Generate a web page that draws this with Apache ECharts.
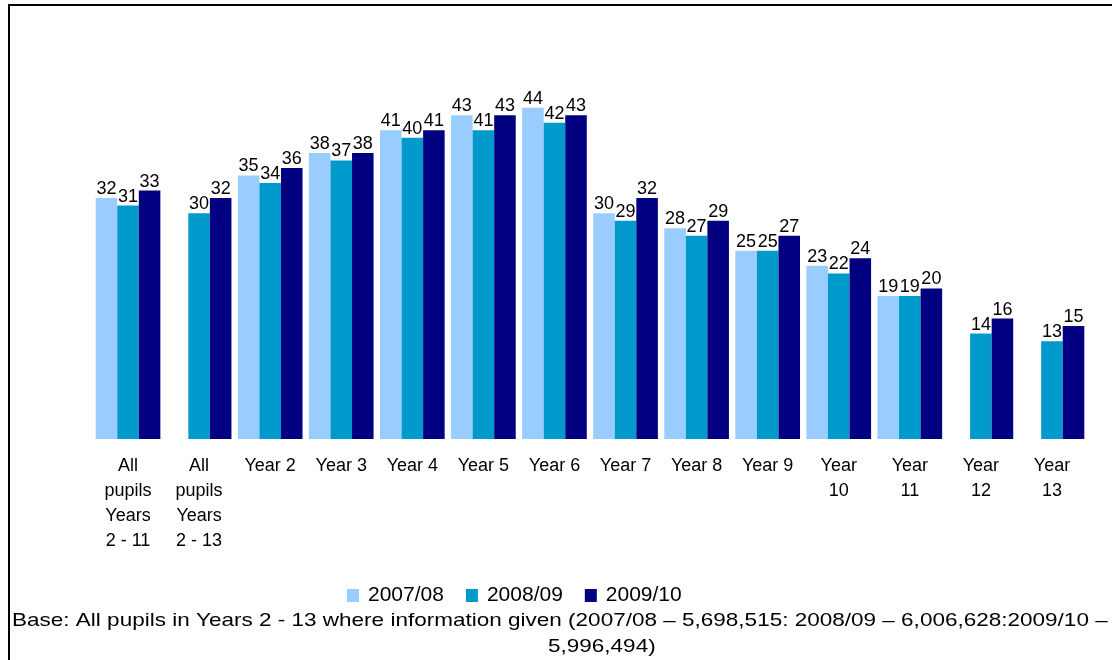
<!DOCTYPE html>
<html><head><meta charset="utf-8">
<script src="https://cdn.jsdelivr.net/npm/echarts@6/dist/echarts.min.js"></script>
<style>html,body{margin:0;padding:0;background:#fff}#c{width:1112px;height:660px}</style>
</head><body><div id="c"></div>
<script>
const categories = ["All\npupils\nYears\n2 - 11","All\npupils\nYears\n2 - 13","Year 2","Year 3","Year 4","Year 5","Year 6","Year 7","Year 8","Year 9","Year\n10","Year\n11","Year\n12","Year\n13"];
const seriesNames = ["2007/08","2008/09","2009/10"];
const v2007 = [32,null,35,38,41,43,44,30,28,25,23,19,null,null];
const v2008 = [31,30,34,37,40,41,42,29,27,25,22,19,14,13];
const v2009 = [33,32,36,38,41,43,43,32,29,27,24,20,16,15];
const colors = ["#99CCFF","#0099CC","#000080"];
const footLine1 = "Base: All pupils in Years 2 - 13 where information given (2007/08 \u2013 5,698,515: 2008/09 \u2013 6,006,628:2009/10 \u2013";
const footLine2 = "5,996,494)";
const font = "Liberation Sans, Arial, sans-serif";
const chart = echarts.init(document.getElementById('c'));
const mk = (name, data, i) => ({
  name, type:'bar', data, barGap:'0%', barCategoryGap:'9%',
  itemStyle:{color:colors[i]},
  label:{show:true, position:'top', distance:0, color:'#000', fontSize:18, fontFamily:font},
  emphasis:{disabled:true}
});
chart.setOption({
  animation:false,
  textStyle:{fontFamily:font},
  grid:{left:92.5, right:24.5, top:40, height:399, containLabel:false},
  legend:{top:580, left:342, itemWidth:12, itemHeight:13, itemGap:22,
    textStyle:{fontSize:21, color:'#000', fontFamily:font, padding:[0,0,0,4]}, icon:'rect', data:seriesNames},
  xAxis:{type:'category', data:categories,
    axisLine:{show:false}, axisTick:{show:false},
    axisLabel:{interval:0, fontSize:18, color:'#000', lineHeight:25, margin:15, fontFamily:font}},
  yAxis:{type:'value', min:0, max:53, show:false, splitLine:{show:false}},
  series:[mk(seriesNames[0],v2007,0), mk(seriesNames[1],v2008,1), mk(seriesNames[2],v2009,2)],
  graphic:[
    {type:'line', shape:{x1:8,y1:5,x2:1112,y2:5}, style:{stroke:'#000', lineWidth:2}},
    {type:'line', shape:{x1:9,y1:4,x2:9,y2:660}, style:{stroke:'#000', lineWidth:2}},
    {type:'text', x:12, y:611, scaleX:1.185, style:{text:footLine1, fill:'#000', font:'19px '+font, verticalAlign:'top'}},
    {type:'text', x:548, y:637, scaleX:1.185, style:{text:footLine2, fill:'#000', font:'19px '+font, verticalAlign:'top'}}
  ]
});
</script></body></html>
